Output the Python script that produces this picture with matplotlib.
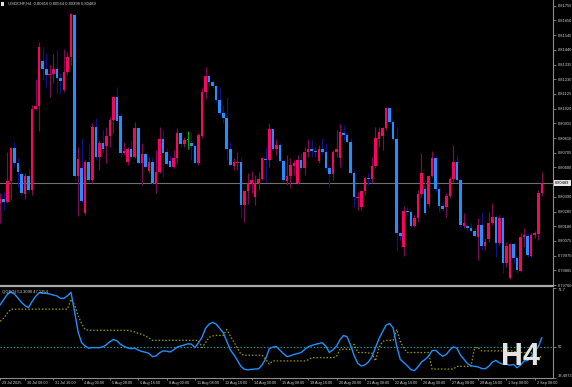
import matplotlib
matplotlib.use("Agg")
import matplotlib.pyplot as plt
import matplotlib.transforms as mtrans
from matplotlib.patches import Rectangle
import numpy as np

plt.rcParams['font.family'] = ['Liberation Sans', 'DejaVu Sans']

# ---------------- data ----------------
symbol = "USDCHF,H4"
indicator_name = "QQE(5)"
timeframe_label = "H4"

opens = [0.80346, 0.80375, 0.80353, 0.80503, 0.80739, 0.80632, 0.80553, 0.80410, 0.80539, 0.80439,
         0.81017, 0.81039, 0.81360, 0.81303, 0.81260, 0.81267, 0.81303, 0.81239, 0.81153, 0.81282,
         0.81389, 0.81689, 0.80539, 0.80596, 0.80275, 0.80639, 0.80510, 0.80889, 0.80675, 0.80775,
         0.80753, 0.80825, 0.80939, 0.81103, 0.80967, 0.80703, 0.80639, 0.80732, 0.80675, 0.80882,
         0.80632, 0.80696, 0.80575, 0.80639, 0.80489, 0.80567, 0.80803, 0.80710, 0.80646, 0.80603,
         0.80667, 0.80846, 0.80767, 0.80796, 0.80775, 0.80753, 0.80632, 0.80825, 0.81139, 0.81253,
         0.81210, 0.81182, 0.81082, 0.80989, 0.80953, 0.80732, 0.80610, 0.80632, 0.80639, 0.80332,
         0.80432, 0.80489, 0.80389, 0.80489, 0.80517, 0.80660, 0.80653, 0.80875, 0.80732, 0.80760,
         0.80646, 0.80503, 0.80539, 0.80610, 0.80489, 0.80653, 0.80596, 0.80710, 0.80732, 0.80717,
         0.80646, 0.80732, 0.80710, 0.80596, 0.80553, 0.80710, 0.80667, 0.80846, 0.80832, 0.80782,
         0.80560, 0.80382, 0.80317, 0.80432, 0.80525, 0.80517, 0.80610, 0.80803, 0.80825, 0.80882,
         0.81025, 0.80925, 0.80803, 0.80132, 0.80032, 0.80289, 0.80282, 0.80182, 0.80239, 0.80410,
         0.80446, 0.80339, 0.80539, 0.80667, 0.80446, 0.80325, 0.80317, 0.80396, 0.80517, 0.80639,
         0.80510, 0.80182, 0.80182, 0.80167, 0.80146, 0.80103, 0.80189, 0.80039, 0.80089, 0.80203,
         0.80246, 0.80060, 0.80239, 0.79917, 0.79810, 0.80053, 0.79953, 0.79860, 0.80103, 0.80110,
         0.79967, 0.80117, 0.80125, 0.80416]
highs = [0.80417, 0.80425, 0.80710, 0.80746, 0.80782, 0.80667, 0.80567, 0.80560, 0.80596, 0.81046,
         0.81232, 0.81496, 0.81460, 0.81417, 0.81332, 0.81410, 0.81439, 0.81275, 0.81446, 0.81425,
         0.81703, 0.81696, 0.80746, 0.80810, 0.80653, 0.80775, 0.80917, 0.80953, 0.80796, 0.80867,
         0.80889, 0.80960, 0.81103, 0.81175, 0.80989, 0.80782, 0.80746, 0.80796, 0.80925, 0.80889,
         0.80775, 0.80703, 0.80675, 0.80675, 0.80725, 0.80889, 0.80867, 0.80739, 0.80689, 0.80725,
         0.80882, 0.80853, 0.80817, 0.80860, 0.80853, 0.80760, 0.80846, 0.81167, 0.81317, 0.81260,
         0.81225, 0.81189, 0.81167, 0.81046, 0.81103, 0.80782, 0.80667, 0.80710, 0.80675, 0.80432,
         0.80560, 0.80575, 0.80546, 0.80567, 0.80675, 0.80746, 0.80917, 0.80882, 0.80803, 0.80775,
         0.80653, 0.80689, 0.80667, 0.80653, 0.80689, 0.80703, 0.80746, 0.80803, 0.80796, 0.80746,
         0.80760, 0.80810, 0.80775, 0.80617, 0.80725, 0.80867, 0.80910, 0.80903, 0.80853, 0.80810,
         0.80582, 0.80425, 0.80439, 0.80532, 0.80560, 0.80675, 0.80889, 0.80889, 0.80889, 0.81032,
         0.81032, 0.80939, 0.80889, 0.80139, 0.80325, 0.80317, 0.80296, 0.80260, 0.80439, 0.80703,
         0.80510, 0.80546, 0.80717, 0.80682, 0.80460, 0.80353, 0.80417, 0.80532, 0.80760, 0.80689,
         0.80525, 0.80275, 0.80203, 0.80203, 0.80167, 0.80239, 0.80282, 0.80096, 0.80282, 0.80346,
         0.80260, 0.80260, 0.80253, 0.80067, 0.80060, 0.80060, 0.79960, 0.80132, 0.80167, 0.80132,
         0.80132, 0.80146, 0.80439, 0.80564]
lows = [0.80203, 0.80296, 0.80346, 0.80367, 0.80603, 0.80460, 0.80403, 0.80375, 0.80417, 0.80403,
        0.81010, 0.80860, 0.81225, 0.81175, 0.81103, 0.81203, 0.81132, 0.81132, 0.81139, 0.81260,
        0.81332, 0.80510, 0.80253, 0.80353, 0.80260, 0.80496, 0.80489, 0.80653, 0.80582, 0.80703,
        0.80632, 0.80746, 0.80846, 0.80925, 0.80675, 0.80689, 0.80617, 0.80660, 0.80667, 0.80625,
        0.80475, 0.80596, 0.80560, 0.80482, 0.80417, 0.80560, 0.80532, 0.80617, 0.80603, 0.80596,
        0.80632, 0.80746, 0.80746, 0.80732, 0.80653, 0.80632, 0.80617, 0.80810, 0.81089, 0.81182,
        0.81167, 0.81067, 0.80975, 0.80917, 0.80653, 0.80610, 0.80582, 0.80582, 0.80246, 0.80210,
        0.80339, 0.80417, 0.80332, 0.80439, 0.80510, 0.80496, 0.80603, 0.80725, 0.80689, 0.80639,
        0.80496, 0.80475, 0.80453, 0.80546, 0.80482, 0.80582, 0.80546, 0.80675, 0.80675, 0.80675,
        0.80632, 0.80689, 0.80582, 0.80460, 0.80510, 0.80675, 0.80603, 0.80796, 0.80775, 0.80553,
        0.80317, 0.80296, 0.80296, 0.80403, 0.80475, 0.80489, 0.80596, 0.80746, 0.80725, 0.80867,
        0.80917, 0.80796, 0.80010, 0.80082, 0.79967, 0.80260, 0.80167, 0.80175, 0.80210, 0.80389,
        0.80260, 0.80317, 0.80532, 0.80425, 0.80282, 0.80289, 0.80246, 0.80382, 0.80496, 0.80496,
        0.80167, 0.80167, 0.80153, 0.80139, 0.80103, 0.79939, 0.80010, 0.80010, 0.80067, 0.80189,
        0.79960, 0.80046, 0.79846, 0.79889, 0.79803, 0.79917, 0.79846, 0.79853, 0.80032, 0.79960,
        0.79960, 0.80096, 0.80082, 0.80398]
closes = [0.80375, 0.80353, 0.80503, 0.80739, 0.80632, 0.80567, 0.80417, 0.80539, 0.80439, 0.81017,
          0.81039, 0.81460, 0.81303, 0.81260, 0.81267, 0.81303, 0.81239, 0.81217, 0.81282, 0.81389,
          0.81696, 0.80539, 0.80660, 0.80360, 0.80639, 0.80510, 0.80889, 0.80675, 0.80775, 0.80732,
          0.80825, 0.80939, 0.81103, 0.80932, 0.80703, 0.80717, 0.80732, 0.80675, 0.80882, 0.80632,
          0.80696, 0.80603, 0.80639, 0.80489, 0.80567, 0.80803, 0.80703, 0.80625, 0.80603, 0.80667,
          0.80846, 0.80767, 0.80796, 0.80796, 0.80753, 0.80632, 0.80832, 0.81139, 0.81253, 0.81210,
          0.81182, 0.81082, 0.80989, 0.80953, 0.80732, 0.80617, 0.80639, 0.80639, 0.80332, 0.80432,
          0.80489, 0.80510, 0.80489, 0.80517, 0.80667, 0.80653, 0.80875, 0.80732, 0.80760, 0.80646,
          0.80510, 0.80539, 0.80617, 0.80632, 0.80653, 0.80596, 0.80710, 0.80732, 0.80717, 0.80710,
          0.80732, 0.80710, 0.80596, 0.80553, 0.80710, 0.80732, 0.80853, 0.80832, 0.80782, 0.80560,
          0.80389, 0.80389, 0.80432, 0.80525, 0.80517, 0.80610, 0.80810, 0.80853, 0.80882, 0.81025,
          0.80925, 0.80803, 0.80132, 0.80110, 0.80289, 0.80282, 0.80182, 0.80239, 0.80410, 0.80560,
          0.80275, 0.80539, 0.80667, 0.80446, 0.80325, 0.80303, 0.80396, 0.80517, 0.80639, 0.80510,
          0.80189, 0.80203, 0.80167, 0.80146, 0.80110, 0.80189, 0.80039, 0.80067, 0.80203, 0.80246,
          0.80060, 0.80239, 0.79917, 0.80039, 0.80053, 0.79953, 0.79867, 0.80103, 0.80117, 0.79975,
          0.80117, 0.80132, 0.80417, 0.80489]

qqe_rsi = [65.5, 67.5, 69.3, 70.3, 69.5, 68.0, 66.4, 65.2, 64.5, 66.7,
           68.6, 69.9, 69.8, 69.7, 69.5, 69.1, 68.8, 67.9, 67.9, 68.8,
           70.1, 63.0, 55.5, 51.5, 50.3, 49.5, 49.7, 49.7, 49.7, 50.0,
           50.8, 51.9, 52.7, 52.2, 50.9, 50.2, 49.6, 49.3, 49.5, 48.8,
           48.3, 48.0, 47.6, 46.4, 46.6, 47.8, 48.5, 48.4, 48.1, 48.9,
           49.9, 50.3, 50.7, 51.1, 51.0, 49.7, 51.5, 53.5, 56.8, 58.4,
           59.0, 58.4, 56.8, 55.2, 52.1, 48.9, 47.1, 45.0, 42.8, 41.7,
           41.5, 41.7, 41.8, 41.9, 43.4, 45.6, 49.3, 49.9, 50.1, 48.8,
           47.5, 46.4, 46.7, 47.2, 47.5, 47.9, 49.0, 50.0, 50.5, 50.9,
           51.2, 51.5, 50.2, 47.9, 48.9, 50.2, 52.7, 54.2, 53.7, 50.5,
           46.7, 43.9, 42.9, 43.3, 44.4, 46.3, 49.6, 53.0, 55.6, 58.0,
           58.6, 57.0, 50.3, 45.4, 44.2, 43.0, 41.6, 41.2, 42.6, 44.4,
           45.3, 46.5, 48.6, 48.7, 47.5, 46.5, 47.2, 48.8, 50.0, 49.5,
           47.0, 45.4, 43.8, 43.0, 42.8, 42.6, 42.0, 41.9, 42.8, 44.3,
           45.0, 44.1, 43.6, 43.6, 43.2, 43.5, 42.3, 43.3, 44.8, 44.9,
           46.4, 48.2, 50.1, 53.3090]
qqe_trail = [59.4, 60.6, 62.4, 63.9, 63.9, 63.9, 63.9, 63.9, 63.9, 63.9,
             63.9, 63.9, 63.9, 63.9, 63.9, 63.9, 63.9, 63.9, 63.9, 63.9,
             67.5, 65.5, 61.5, 58.5, 56.4, 56.1, 56.1, 56.1, 56.1, 56.1,
             56.1, 56.1, 56.1, 56.1, 56.1, 56.1, 56.1, 55.8, 55.5, 55.0,
             54.6, 54.0, 53.3, 52.4, 52.4, 52.4, 52.4, 52.4, 52.4, 52.4,
             52.4, 52.4, 52.4, 52.4, 52.4, 52.4, 52.4, 49.7, 51.5, 53.5,
             54.0, 54.2, 54.2, 54.2, 56.4, 54.0, 51.8, 49.5, 47.3, 46.9,
             46.9, 46.9, 46.9, 46.9, 46.9, 45.4, 43.6, 44.8, 44.8, 44.8,
             44.8, 44.8, 44.8, 44.8, 44.8, 44.8, 44.8, 45.2, 46.0, 46.0,
             46.0, 46.0, 46.0, 46.0, 46.0, 46.5, 49.1, 49.1, 49.1, 49.1,
             50.9, 47.9, 47.9, 47.9, 47.7, 47.7, 44.8, 49.7, 52.0, 52.4,
             52.4, 52.4, 56.4, 52.1, 49.5, 47.9, 47.9, 47.9, 47.9, 47.9,
             47.9, 47.9, 41.8, 41.8, 41.8, 41.8, 41.8, 41.8, 41.8, 42.8,
             42.8, 42.8, 42.8, 42.8, 49.7, 49.7, 48.5, 48.5, 48.5, 48.5,
             48.5, 48.5, 48.5, 48.5, 48.5, 48.5, 47.9, 47.9, 47.9, 47.9,
             47.9, 44.8, 44.8, 47.1254]

price_ticks = [0.81755, 0.81650, 0.81545, 0.81440, 0.81335, 0.81230, 0.81125,
               0.81020, 0.80915, 0.80810, 0.80705, 0.80600, 0.80390, 0.80285,
               0.80180, 0.80075, 0.79970, 0.79865, 0.79760]
qqe_ticks = [38.4973, 50.0, 71.7]
qqe_level = 50.0
date_labels = ["29 Jul 2025", "30 Jul 08:00", "31 Jul 16:00", "4 Aug 00:00", "5 Aug 08:00",
               "6 Aug 16:00", "8 Aug 00:00", "11 Aug 08:00", "12 Aug 16:00", "14 Aug 00:00",
               "15 Aug 08:00", "18 Aug 16:00", "20 Aug 00:00", "21 Aug 08:00", "22 Aug 16:00",
               "26 Aug 00:00", "27 Aug 08:00", "28 Aug 16:00", "1 Sep 00:00", "2 Sep 08:00"]
date_label_bars = [0, 7, 15, 23, 31, 39, 47, 55, 63, 71, 79, 87, 95, 103, 111, 119, 127, 135, 143, 151]

# ---------------- style ----------------
W, H = 572, 387
BG = 'black'
TXT = '#D2D2D2'
AXC = '#8C8C8C'
BULL = '#F5075E'
BEAR = '#1E90FF'
DOJI = '#00B000'
BULL_WICK = '#7A0C55'
BEAR_WICK = '#10128A'

fig = plt.figure(figsize=(W / 100, H / 100), dpi=100, facecolor=BG)
ax = fig.add_axes([0, 1 - 286 / H, 553 / W, 286 / H], facecolor=BG)
ax2 = fig.add_axes([0, 9 / H, 553 / W, 90 / H], facecolor=BG)

o = np.array(opens); h = np.array(highs); l = np.array(lows); c = np.array(closes)
x = np.arange(len(o))
body_col = np.where(c > o, BULL, np.where(c < o, BEAR, DOJI))
wick_col = np.where(c > o, BULL_WICK, np.where(c < o, BEAR_WICK, DOJI))

ax.vlines(x, l, h, colors=wick_col, lw=0.85, zorder=2)
bottoms = np.minimum(o, c)
heights = np.maximum(np.abs(c - o), 0.00007)
ax.bar(x, heights, bottom=bottoms, width=0.72, color=body_col, linewidth=0, zorder=3)

x_left = -0.06
x_right = x_left + 553 / 3.54
ax.set_xlim(x_left, x_right)
ax.set_ylim(0.79753, 0.81796)
ax.axhline(c[-1], color='#707070', lw=0.8, zorder=1)

for a in (ax, ax2):
    for s in ('top', 'left'):
        a.spines[s].set_visible(False)
    a.spines['right'].set_color(AXC)
    a.spines['right'].set_linewidth(0.8)
    a.spines['bottom'].set_color(AXC)
ax.spines['bottom'].set_color('#A8A8A8')
ax.spines['bottom'].set_linewidth(1.6)
ax2.spines['bottom'].set_linewidth(0.8)

ax.yaxis.tick_right()
ax.set_yticks(price_ticks)
ax.set_yticklabels([f"{p:.5f}" for p in price_ticks])
ax.tick_params(axis='y', labelsize=2.9, labelcolor=TXT, color=AXC, length=2, width=0.6, pad=1.2)
ax.set_xticks([])

tr = mtrans.blended_transform_factory(ax.transAxes, ax.transData)
ax.text(1.004, c[-1], f"{c[-1]:.5f}", transform=tr, ha='left', va='center', fontsize=2.9,
        color='black', clip_on=False,
        bbox=dict(boxstyle='square,pad=0.25', fc='#E6E6E6', ec='none'))

# ---------------- QQE pane ----------------
ax2.set_xlim(x_left, x_right)
ax2.set_ylim(qqe_ticks[0], qqe_ticks[-1])
ax2.axhline(qqe_level, color='#1FA8A8', lw=0.8, ls=(0, (1.2, 1.8)), zorder=1)
ax2.plot(x, qqe_trail, color='#9C9C00', lw=0.9, ls=(0, (1.2, 1.5)), zorder=2)
ax2.plot(x, qqe_rsi, color='#1E90FF', lw=1.0, zorder=3)

ax2.yaxis.tick_right()
ax2.set_yticks(qqe_ticks)
ax2.set_yticklabels(["38.4973", "50", "71.7"])
ax2.tick_params(axis='y', labelsize=2.9, labelcolor=TXT, color=AXC, length=2, width=0.6, pad=1.2)
for lbl, va in zip(ax2.get_yticklabels(), ['bottom', 'center', 'top']):
    lbl.set_verticalalignment(va)

ax2.set_xticks(date_label_bars)
ax2.set_xticklabels(date_labels)
ax2.tick_params(axis='x', labelsize=2.7, labelcolor=TXT, color=AXC, length=1.5, width=0.6, pad=0.8)
shift = mtrans.ScaledTranslation(2 / 100, 0, fig.dpi_scale_trans)
for lbl in ax2.get_xticklabels():
    lbl.set_horizontalalignment('left')
    lbl.set_transform(lbl.get_transform() + shift)

ax2.text(2 / 553, 1 - 3.5 / 90, f"{indicator_name} {qqe_rsi[-1]:.4f} {qqe_trail[-1]:.4f}",
         transform=ax2.transAxes, ha='left', va='center', fontsize=3.0, color=TXT, zorder=5)

# header
fig.patches.append(Rectangle((1 / W, 1 - 5.5 / H), 3 / W, 3 / H, transform=fig.transFigure,
                             facecolor='#E0E0E0', edgecolor='none'))
fig.text(8 / W, 1 - 4 / H,
         f"{symbol}  {opens[-1]:.5f} {highs[-1]:.5f} {lows[-1]:.5f} {closes[-1]:.5f}",
         ha='left', va='center', fontsize=3.0, color=TXT)

# big timeframe label
fig.text(501 / W, 1 - 365 / H, timeframe_label, ha='left', va='baseline', fontsize=22,
         fontweight='bold', color='#E4E4E4', zorder=10)

fig.savefig("out.png", dpi=100, facecolor=BG)
